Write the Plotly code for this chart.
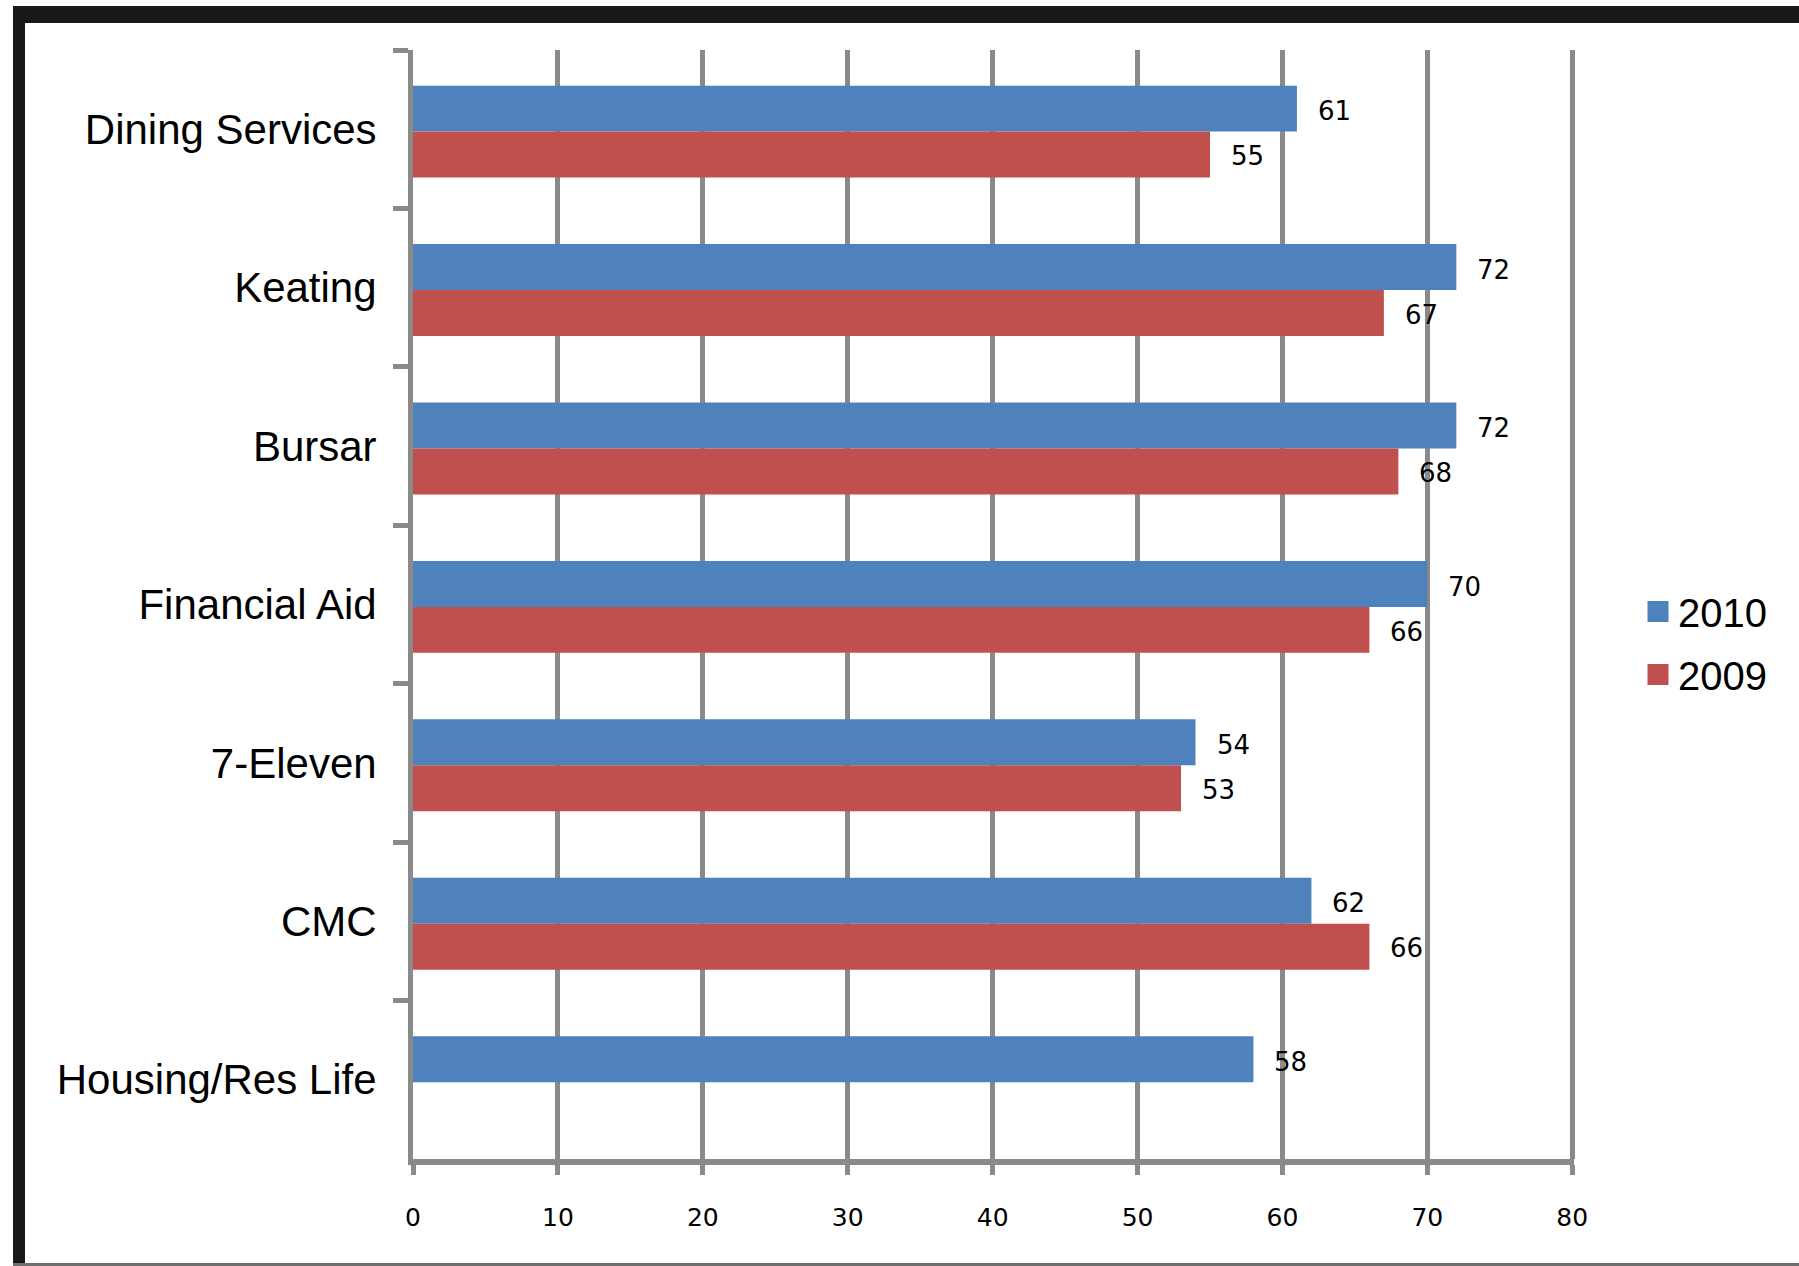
import plotly.graph_objects as go

categories = ["Dining Services", "Keating", "Bursar", "Financial Aid", "7-Eleven", "CMC", "Housing/Res Life"]
values_2010 = [61, 72, 72, 70, 54, 62, 58]
values_2009 = [55, 67, 68, 66, 53, 66, None]
series_names = ["2010", "2009"]
x_ticks = [0, 10, 20, 30, 40, 50, 60, 70, 80]

BLUE = "#4F81BD"
RED = "#C0504D"
GRID = "#8A8A8A"
FRAME = "#1A1718"

W, H = 1799, 1266
L, R, T, B = 413, 225, 50, 107
PW, PH = W - L - R, H - T - B


def xp(px):
    return (px - L) / PW


def yp(py):
    return (H - B - py) / PH


BAR_W = 0.29
SHIFT = 0.015

fig = go.Figure()
fig.add_trace(go.Bar(y=categories, x=values_2010, orientation="h", name=series_names[0],
                     width=BAR_W, offset=-BAR_W + SHIFT,
                     marker=dict(color=BLUE, line=dict(width=0)), showlegend=False))
fig.add_trace(go.Bar(y=categories, x=values_2009, orientation="h", name=series_names[1],
                     width=BAR_W, offset=SHIFT,
                     marker=dict(color=RED, line=dict(width=0)), showlegend=False))

# legend proxies
for name, col, grp in [(series_names[0], BLUE, "g1"), (series_names[1], RED, "g2")]:
    fig.add_trace(go.Scatter(x=[None], y=[None], mode="markers", name=name, legendgroup=grp,
                             marker=dict(symbol="square", size=16, color=col,
                                         line=dict(color=col, width=5)),
                             showlegend=True, hoverinfo="skip"))

annotations = []
for vals, ysh in [(values_2010, 18), (values_2009, -27)]:
    for c, v in zip(categories, vals):
        if v is None:
            continue
        annotations.append(dict(x=v, y=c, xref="x", yref="y", text=str(v), showarrow=False,
                                xanchor="left", yanchor="middle", xshift=19, yshift=ysh,
                                font=dict(family="DejaVu Sans", size=26, color="black")))

shapes = [
    dict(type="rect", xref="paper", yref="paper", x0=xp(13), x1=xp(1830), y0=yp(23), y1=yp(6),
         fillcolor=FRAME, line=dict(width=0), layer="above"),
    dict(type="rect", xref="paper", yref="paper", x0=xp(13), x1=xp(25), y0=yp(1275), y1=yp(6),
         fillcolor=FRAME, line=dict(width=0), layer="above"),
    dict(type="rect", xref="paper", yref="paper", x0=xp(13), x1=xp(1830), y0=yp(1267), y1=yp(1263),
         fillcolor="#6E6E6E", line=dict(width=0), layer="above"),
]

fig.update_layout(
    width=W, height=H, autosize=False,
    margin=dict(l=L, r=R, t=T, b=B, pad=0),
    paper_bgcolor="white", plot_bgcolor="white",
    barmode="group", bargap=0.42, bargroupgap=0,
    showlegend=True,
    legend=dict(x=xp(1638), y=yp(643), xanchor="left", yanchor="middle",
                font=dict(family="Liberation Sans", size=40, color="black"),
                traceorder="grouped", tracegroupgap=8, bgcolor="rgba(0,0,0,0)"),
    annotations=annotations,
    shapes=shapes,
    xaxis=dict(range=[0, 80.12], tickvals=x_ticks, ticktext=[str(t) for t in x_ticks],
               showgrid=True, gridcolor=GRID, gridwidth=5, zeroline=False,
               showline=True, linecolor=GRID, linewidth=6,
               ticks="outside", ticklen=10, tickwidth=5, tickcolor=GRID,
               tickfont=dict(family="DejaVu Sans", size=25, color="black"),
               ticklabelstandoff=21, fixedrange=True),
    yaxis=dict(type="category", categoryorder="array", categoryarray=categories,
               autorange="reversed", tickson="boundaries",
               showgrid=False, zeroline=False,
               showline=True, linecolor=GRID, linewidth=5,
               ticks="outside", ticklen=15, tickwidth=5, tickcolor=GRID,
               tickfont=dict(family="Liberation Sans", size=42, color="black"),
               ticklabelstandoff=23, fixedrange=True),
)

fig.write_html("out.html")
